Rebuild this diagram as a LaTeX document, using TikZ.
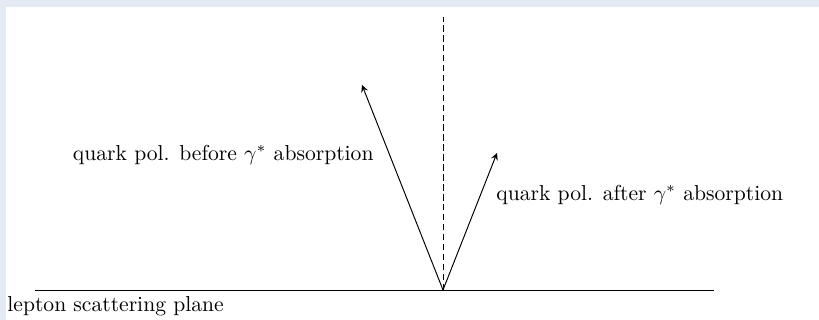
\documentclass[tikz,border=0pt]{standalone}
\usepackage{amsmath}
\usepackage{tikz}
\usetikzlibrary{arrows,backgrounds}
\definecolor{framebg}{RGB}{228,234,243}

\begin{document}
\begin{tikzpicture}[
    x=0.01627cm, y=0.01627cm,
    lbl/.style={inner sep=0pt, font=\normalsize},
    arrow/.style={->, >=stealth, line width=0.45pt},
    normal/.style={dashed, dash pattern=on 3pt off 1.6pt, line width=0.45pt},
    plane/.style={line width=0.45pt}
]
    % frame
    \fill[framebg] (0,0) rectangle (819,320);
    \fill[white] (6,0) rectangle (819,313);
    \useasboundingbox (0,0) rectangle (819,320);

    \coordinate (vertex) at (443,30);
    \coordinate (top) at (443,303);
    \coordinate (planeL) at (35,30);
    \coordinate (planeR) at (714,30);
    \coordinate (before) at (362,235);
    \coordinate (after) at (497,167);

    \node[lbl, anchor=east] (beforelbl) at (374,165) {quark pol. before $\gamma^*$ absorption};
    \node[lbl, anchor=west] (afterlbl) at (496,125) {quark pol. after $\gamma^*$ absorption};
    \node[lbl, anchor=west] (planelbl) at (7,14) {lepton scattering plane};

    \draw[plane] (planeL) -- (planeR);
    \draw[normal] (vertex) -- (top);
    \draw[arrow] (vertex) -- (before);
    \draw[arrow] (vertex) -- (after);
\end{tikzpicture}
\end{document}
